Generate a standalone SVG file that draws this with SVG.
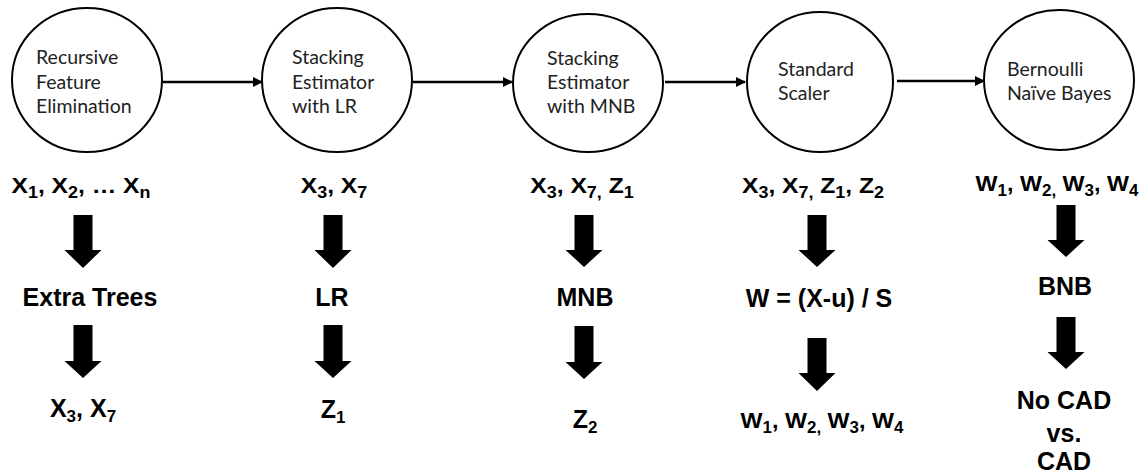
<svg xmlns="http://www.w3.org/2000/svg" width="1148" height="473" viewBox="0 0 1148 473">
<style>
.node ellipse{fill:#fff;stroke:#000;stroke-width:2}
.ntxt{font-family:"Lato","Open Sans",sans-serif;font-size:19.5px;fill:#222}
.lbl{font-family:"Liberation Sans",Arial,sans-serif;font-weight:bold;fill:#000}
.r1{font-size:22px}
.r2{font-size:25px}
.nar{font-family:"Liberation Sans Narrow","Liberation Sans",Arial,sans-serif;font-weight:bold;font-size:25px;fill:#000}
.sub{font-size:16px}
.nsub{font-size:17px}
.conn line{stroke:#000;stroke-width:2.5}
.big{fill:#000}
</style>
<defs>
<marker id="ah" viewBox="0 0 10 10" refX="9" refY="5" markerWidth="4" markerHeight="4" orient="auto" markerUnits="strokeWidth">
<path d="M0,0 L10,5 L0,10 z" fill="#000"/>
</marker>
</defs>
<rect width="1148" height="473" fill="#fff"/>

<g id="n1" class="node">
<ellipse cx="87" cy="80" rx="75" ry="72"/>
<text class="ntxt" x="36" y="64">Recursive</text>
<text class="ntxt" x="36" y="88.5">Feature</text>
<text class="ntxt" x="36" y="113">Elimination</text>
</g>
<g id="n2" class="node">
<ellipse cx="337" cy="80" rx="75" ry="72"/>
<text class="ntxt" x="292" y="64">Stacking</text>
<text class="ntxt" x="292" y="88.5">Estimator</text>
<text class="ntxt" x="292" y="113">with LR</text>
</g>
<g id="n3" class="node">
<ellipse cx="588" cy="83" rx="75" ry="69"/>
<text class="ntxt" x="547" y="65">Stacking</text>
<text class="ntxt" x="547" y="89">Estimator</text>
<text class="ntxt" x="547" y="113">with MNB</text>
</g>
<g id="n4" class="node">
<ellipse cx="820" cy="82" rx="73" ry="70"/>
<text class="ntxt" x="778" y="76">Standard</text>
<text class="ntxt" x="778" y="100">Scaler</text>
</g>
<g id="n5" class="node">
<ellipse cx="1059" cy="80" rx="75" ry="70"/>
<text class="ntxt" x="1007" y="76">Bernoulli</text>
<text class="ntxt" x="1007" y="100">Naïve Bayes</text>
</g>

<g id="connectors" class="conn">
<line x1="163" y1="82" x2="262" y2="82" marker-end="url(#ah)"/>
<line x1="413" y1="82" x2="512" y2="82" marker-end="url(#ah)"/>
<line x1="665" y1="82" x2="745" y2="82" marker-end="url(#ah)"/>
<line x1="897" y1="81" x2="984" y2="81" marker-end="url(#ah)"/>
</g>

<g id="block-arrows" class="big">
<polygon points="73.5,215 92.5,215 92.5,250 101.5,250 83,268 64.5,250 73.5,250"/>
<polygon points="73.5,325 92.5,325 92.5,361 101.5,361 83,378 64.5,361 73.5,361"/>
<polygon points="323.5,215 342.5,215 342.5,250 351.5,250 333,268 314.5,250 323.5,250"/>
<polygon points="323.5,325 342.5,325 342.5,361 351.5,361 333,378 314.5,361 323.5,361"/>
<polygon points="574.5,215 593.5,215 593.5,250 602.5,250 584,267 565.5,250 574.5,250"/>
<polygon points="574.5,326 593.5,326 593.5,362 602.5,362 584,379 565.5,362 574.5,362"/>
<polygon points="807.5,215 826.5,215 826.5,250 835.5,250 817,267 798.5,250 807.5,250"/>
<polygon points="807.5,338 826.5,338 826.5,373 835.5,373 817,391 798.5,373 807.5,373"/>
<polygon points="1056.5,205 1075.5,205 1075.5,240 1084.5,240 1066,257 1047.5,240 1056.5,240"/>
<polygon points="1056.5,317 1075.5,317 1075.5,352 1084.5,352 1066,369 1047.5,352 1056.5,352"/>
</g>

<g id="labels">
<text class="lbl r1" transform="translate(11.5,192.7) scale(1.12,1)">X<tspan class="sub" dy="5">1</tspan><tspan dy="-5">, X</tspan><tspan class="sub" dy="5">2</tspan><tspan dy="-5">, … X</tspan><tspan class="sub" dy="5">n</tspan></text>
<text class="lbl r1" transform="translate(334,192.7) scale(1.12,1)" text-anchor="middle">X<tspan class="sub" dy="5">3</tspan><tspan dy="-5">, X</tspan><tspan class="sub" dy="5">7</tspan></text>
<text class="lbl r1" transform="translate(582,192.7) scale(1.12,1)" text-anchor="middle">X<tspan class="sub" dy="5">3</tspan><tspan dy="-5">, X</tspan><tspan class="sub" dy="5">7,</tspan><tspan dy="-5"> Z</tspan><tspan class="sub" dy="5">1</tspan></text>
<text class="lbl r1" transform="translate(813,192.7) scale(1.12,1)" text-anchor="middle">X<tspan class="sub" dy="5">3</tspan><tspan dy="-5">, X</tspan><tspan class="sub" dy="5">7,</tspan><tspan dy="-5"> Z</tspan><tspan class="sub" dy="5">1</tspan><tspan dy="-5">, Z</tspan><tspan class="sub" dy="5">2</tspan></text>
<text class="lbl r1" transform="translate(1057,191) scale(1.06,1)" text-anchor="middle">W<tspan class="sub" dy="5">1</tspan><tspan dy="-5">, W</tspan><tspan class="sub" dy="5">2,</tspan><tspan dy="-5"> W</tspan><tspan class="sub" dy="5">3</tspan><tspan dy="-5">, W</tspan><tspan class="sub" dy="5">4</tspan></text>

<text class="lbl r2" x="90" y="306" text-anchor="middle">Extra Trees</text>
<text class="lbl r2" x="332" y="306" text-anchor="middle">LR</text>
<text class="lbl r2" x="585" y="306" text-anchor="middle">MNB</text>
<text class="lbl r2" x="819" y="307" text-anchor="middle">W = (X-u) / S</text>
<text class="lbl r2" x="1065" y="295" text-anchor="middle">BNB</text>

<text class="nar" x="83" y="417" text-anchor="middle">X<tspan class="nsub" dy="5">3</tspan><tspan dy="-5">, X</tspan><tspan class="nsub" dy="5">7</tspan></text>
<text class="nar" x="333" y="418" text-anchor="middle">Z<tspan class="nsub" dy="5">1</tspan></text>
<text class="nar" x="585" y="428" text-anchor="middle">Z<tspan class="nsub" dy="5">2</tspan></text>
<text class="lbl r1" transform="translate(822,428.3) scale(1.06,1)" text-anchor="middle">W<tspan class="sub" dy="5">1</tspan><tspan dy="-5">, W</tspan><tspan class="sub" dy="5">2,</tspan><tspan dy="-5"> W</tspan><tspan class="sub" dy="5">3</tspan><tspan dy="-5">, W</tspan><tspan class="sub" dy="5">4</tspan></text>
<text class="lbl r2" x="1064" y="409" text-anchor="middle">No CAD</text>
<text class="lbl r2" x="1064" y="442" text-anchor="middle">vs.</text>
<text class="lbl r2" x="1064" y="470" text-anchor="middle">CAD</text>
</g>
</svg>
